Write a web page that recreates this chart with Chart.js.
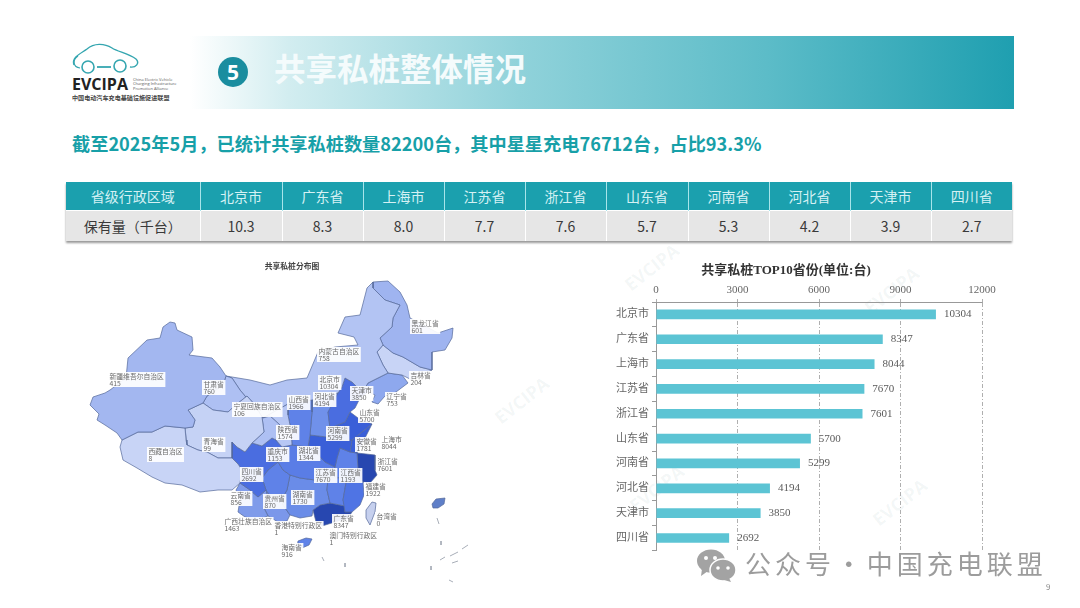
<!DOCTYPE html>
<html lang="zh">
<head>
<meta charset="utf-8">
<title>共享私桩整体情况</title>
<script src="https://cdn.jsdelivr.net/npm/chart.js@4"></script>
<style>
  html, body { margin: 0; padding: 0; background: #fff; }
  body { position: relative; width: 1080px; height: 608px; overflow: hidden; font-family: "Noto Sans CJK SC", "Noto Sans", sans-serif; }
  .abs { position: absolute; }
  #banner { left: 190px; top: 36px; width: 824px; height: 73px; background: linear-gradient(90deg, #fff 0%, #d2edf0 12%, #90d2da 40%, #5cbcc8 70%, #1f9fb0 100%); }
  #num { left: 218px; top: 57px; width: 30px; height: 30px; border-radius: 50%; background: #1a8d9f; color: #fff; font: bold 21px/30px "Open Sans", sans-serif; text-align: center; }
  #headline { left: 274px; top: 46px; color: #f4fbfc; font-size: 31.5px; font-weight: 700; line-height: 42px; white-space: nowrap; }
  #sub { left: 72px; top: 130px; color: #17a0a8; font-size: 18.2px; font-weight: 700; line-height: 26px; white-space: nowrap; }
  #tbl { left: 66px; top: 182px; border-collapse: collapse; box-shadow: 0 2px 2px #9a9a9a; table-layout: fixed; width: 946px; }
  #tbl td { text-align: center; padding: 0; font-size: 14px; }
  #tbl tr:first-child td { height: 28px; background: #1ba0ae; color: #d5f1f4; border-right: 1px solid #a8e4ea; }
  #tbl tr:last-child td { height: 30px; background: #e6e6e6; color: #3a3a3a; border-right: 1px solid #fff; border-top: 1px solid #fff; }
  #tbl td:last-child { border-right: 0 !important; }
  #mapChart { left: 60px; top: 255px; }
  #barChart { left: 590px; top: 255px; }
  .mark { color: rgba(90, 130, 140, 0.07); font: bold 18px "Open Sans", sans-serif; transform: rotate(-38deg); white-space: nowrap; }
  #foot { left: 745px; top: 545px; color: #9c9c9c; font-size: 26px; letter-spacing: 4px; word-spacing: -9px; line-height: 36px; white-space: nowrap; }
  #pg { left: 1046px; top: 581px; color: #888; font-size: 8px; }
  #logoEn { left: 72px; top: 75px; font: bold 16px/18px "Open Sans", sans-serif; color: #222; }
  #logoSm { left: 133px; top: 78px; font: 4px/4.4px "Open Sans", sans-serif; color: #555; }
  #logoCn { left: 72px; top: 93px; font-size: 6.1px; font-weight: 700; color: #444; line-height: 9px; white-space: nowrap; }
</style>
</head>
<body>
<div class="abs" id="banner"></div>
<div class="abs" id="num">5</div>
<div class="abs" id="headline">共享私桩整体情况</div>
<svg class="abs" style="left:70px;top:40px" width="75" height="38" viewBox="0 0 75 38" fill="none">
  <path d="M4 25 C1 17 12 13 17 9 C24 3 34 3 42 8 C48 12 58 13 66 19 C70 23 66 28 60 27" stroke="#35a6b0" stroke-width="1.4"/>
  <path d="M10 28 C3 27 2 20 8 16" stroke="#35a6b0" stroke-width="1.2"/>
  <circle cx="18" cy="27" r="6" stroke="#35a6b0" stroke-width="1.6"/>
  <circle cx="50" cy="26" r="6" stroke="#35a6b0" stroke-width="1.6"/>
  <path d="M27 27 H41" stroke="#35a6b0" stroke-width="1.8"/>
</svg>
<div class="abs" id="logoEn">EVCIPA</div>
<div class="abs" id="logoSm">China Electric Vehicle<br>Charging Infrastructure<br>Promotion Alliance</div>
<div class="abs" id="logoCn">中国电动汽车充电基础设施促进联盟</div>
<div class="abs" id="sub">截至2025年5月，已统计共享私桩数量82200台，其中星星充电76712台，占比93.3%</div>
<table class="abs" id="tbl"></table>

<div class="abs mark" style="left:620px;top:255px">EVCIPA</div>
<div class="abs mark" style="left:860px;top:278px">EVCIPA</div>
<div class="abs mark" style="left:868px;top:490px">EVCIPA</div>
<div class="abs mark" style="left:625px;top:476px">EVCIPA</div>
<div class="abs mark" style="left:490px;top:388px">EVCIPA</div>

<canvas class="abs" id="mapChart" width="420" height="340" style="width:420px;height:340px"></canvas>
<canvas class="abs" id="barChart" width="420" height="305" style="width:420px;height:305px"></canvas>

<svg class="abs" style="left:696px;top:549px" width="42" height="34" viewBox="0 0 42 34">
  <ellipse cx="15" cy="12" rx="14" ry="11.5" fill="#a3a3a3"/>
  <path d="M6 20 L5 27 L12 22 Z" fill="#a3a3a3"/>
  <ellipse cx="27" cy="21" rx="13" ry="11" fill="#a3a3a3" stroke="#fff" stroke-width="1.5"/>
  <path d="M33 29 L35 33 L28 31 Z" fill="#a3a3a3"/>
  <circle cx="10" cy="9" r="2" fill="#fff"/><circle cx="19" cy="9" r="2" fill="#fff"/>
  <circle cx="22" cy="19" r="1.8" fill="#fff"/><circle cx="32" cy="19" r="1.8" fill="#fff"/>
</svg>
<div class="abs" id="foot">公众号 · 中国充电联盟</div>
<div class="abs" id="pg">9</div>

<script>
// table + bar chart
const tableRegions = ['北京市', '广东省', '上海市', '江苏省', '浙江省', '山东省', '河南省', '河北省', '天津市', '四川省'];
const tableValues = ['10.3', '8.3', '8.0', '7.7', '7.6', '5.7', '5.3', '4.2', '3.9', '2.7'];
const barRegions = ['北京市', '广东省', '上海市', '江苏省', '浙江省', '山东省', '河南省', '河北省', '天津市', '四川省'];
const barValues = [10304, 8347, 8044, 7670, 7601, 5700, 5299, 4194, 3850, 2692];

// map labels, 省份 / 数量 / label corner on the map grid
const mapNames = ['新疆维吾尔自治区', '甘肃省', '内蒙古自治区', '黑龙江省', '吉林省', '辽宁省', '北京市', '天津市', '河北省', '山西省', '宁夏回族自治区', '陕西省', '青海省', '西藏自治区', '四川省', '重庆市', '湖北省', '河南省', '山东省', '安徽省', '上海市', '江苏省', '浙江省', '江西省', '福建省', '湖南省', '贵州省', '云南省', '广西壮族自治区', '广东省', '香港特别行政区', '澳门特别行政区', '海南省', '台湾省'];
const mapValues = [415, 760, 758, 601, 204, 753, 10304, 3850, 4194, 1966, 106, 1574, 99, 8, 2692, 1153, 1344, 5299, 5700, 1781, 8044, 7670, 7601, 1193, 1922, 1730, 870, 856, 1463, 8347, 1, 1, 916, 0];
const mapLabelX = [108, 202, 317, 410, 409, 385, 318, 350, 313, 287, 232, 276, 202, 147, 240, 266, 297, 326, 358, 355, 380, 314, 376, 339, 364, 291, 263, 229, 223, 332, 273, 328, 280, 375];
const mapLabelY = [372, 380, 347, 319, 371, 392, 375, 386, 392, 395, 402, 425, 437, 447, 467, 447, 446, 426, 408, 437, 435, 468, 457, 468, 482, 490, 494, 491, 517, 514, 521, 531, 543, 512];

// outlines, on the map grid
const xinjiang = [[170,322],[175,323],[177,330],[192,337],[193,350],[189,355],[212,358],[220,367],[226,376],[223,385],[207,396],[203,403],[188,410],[195,420],[193,427],[185,428],[165,426],[152,432],[138,432],[122,440],[117,433],[105,425],[97,420],[99,414],[90,405],[93,397],[105,393],[110,390],[126,378],[128,358],[147,340],[160,338],[163,327]];
const tibet = [[122,440],[138,432],[152,432],[165,426],[185,428],[186,440],[187,445],[198,450],[207,452],[218,458],[232,458],[238,464],[242,470],[240,483],[232,490],[218,490],[200,492],[182,485],[165,483],[152,477],[137,468],[123,460],[120,447]];
const qinghai = [[188,410],[203,403],[213,410],[228,412],[237,404],[247,396],[255,405],[262,417],[264,432],[252,443],[245,452],[237,447],[232,442],[232,458],[218,458],[207,452],[198,450],[187,445],[185,428],[193,427],[195,420]];
const gansu = [[226,376],[232,378],[240,390],[255,408],[263,418],[270,416],[280,425],[276,440],[272,438],[262,446],[252,443],[264,432],[262,417],[255,405],[247,396],[237,404],[228,412],[213,410],[203,403],[207,396],[223,385]];
const shaanxi = [[263,418],[288,404],[288,415],[291,430],[292,445],[282,447],[276,440],[280,425],[270,416]];
const innerMongolia = [[226,376],[250,380],[270,385],[287,380],[307,378],[318,352],[335,347],[358,345],[354,337],[338,333],[345,317],[360,315],[367,288],[373,282],[373,288],[385,300],[400,305],[393,318],[392,327],[380,338],[383,345],[377,352],[383,365],[388,373],[368,383],[365,388],[357,387],[352,382],[345,378],[342,387],[338,393],[312,400],[288,404],[263,418],[255,408],[240,390],[232,378]];
const heilongjiang = [[373,282],[388,281],[400,292],[407,305],[410,318],[438,333],[453,328],[452,338],[445,350],[432,352],[432,370],[420,367],[403,357],[393,353],[383,345],[380,338],[392,327],[393,318],[400,305],[385,300],[373,288]];
const jilin = [[383,345],[393,353],[403,357],[420,367],[432,370],[420,375],[412,380],[402,375],[388,373],[383,365],[377,352]];
const liaoning = [[388,373],[402,375],[408,383],[396,392],[385,396],[378,404],[372,402],[375,395],[368,392],[365,388],[368,383]];
const hebei = [[345,378],[352,382],[357,387],[365,388],[368,392],[360,398],[355,408],[350,412],[345,422],[330,428],[328,412],[338,393],[342,387]];
const beijing = [[338,393],[348,392],[349,402],[338,404]];
const shanxi = [[288,404],[312,400],[312,412],[310,435],[308,447],[292,445],[291,430],[288,415]];
const midBlock = [[312,400],[338,393],[338,404],[328,412],[330,428],[327,437],[310,435],[312,412]];
const shandong = [[350,412],[358,418],[372,424],[362,432],[352,440],[343,440],[335,432],[330,428],[345,422]];
const henan = [[310,435],[327,437],[330,428],[335,432],[343,440],[352,440],[350,452],[340,448],[337,458],[335,467],[325,462],[318,455],[308,447]];
const jiangsu = [[352,440],[362,432],[372,424],[365,438],[360,447],[357,453],[350,452]];
const anhui = [[337,458],[340,448],[350,452],[357,453],[358,470],[357,476],[347,477],[337,478],[335,467]];
const zhejiang = [[357,453],[375,455],[375,470],[377,475],[370,483],[363,482],[357,476],[358,470]];
const fujian = [[347,477],[357,476],[363,482],[364,495],[360,505],[352,512],[345,512],[343,500]];
const jiangxi = [[328,478],[347,477],[343,500],[345,506],[330,503],[327,490]];
const hubei = [[282,447],[292,445],[308,447],[318,455],[325,462],[335,467],[337,478],[328,478],[315,480],[300,478],[290,475],[283,470],[278,462]];
const sichuan = [[232,442],[237,447],[245,452],[252,443],[262,446],[272,438],[276,440],[282,447],[278,462],[268,470],[262,478],[266,490],[258,497],[250,490],[240,483],[242,470],[238,464],[232,458]];
const yunnan = [[240,483],[250,490],[258,497],[266,490],[268,500],[264,508],[268,516],[258,520],[245,517],[238,512],[240,500],[236,490]];
const guizhou = [[268,470],[278,462],[283,470],[290,475],[287,490],[283,497],[270,496],[266,490],[262,478]];
const hunan = [[290,475],[300,478],[315,480],[328,478],[327,490],[330,503],[320,505],[313,510],[312,516],[300,518],[290,515],[283,505],[283,497],[287,490]];
const guangxi = [[266,490],[270,496],[283,497],[283,505],[290,515],[287,521],[278,522],[268,516],[264,508],[268,500]];
const guangdong = [[313,510],[320,505],[330,503],[345,506],[345,512],[352,512],[348,518],[335,522],[322,526],[316,522]];
const taiwan = [[372,502],[376,503],[375,512],[370,525],[366,518],[366,510]];
const hainan = [[297,547],[298,541],[306,538],[312,539],[309,545],[302,548]];
const isle = [[432,504],[436,499],[445,498],[444,504],[438,508],[433,508]];
const seaSpecks = [[[437,518],[439,524]], [[441,541],[441,545]], [[431,566],[431,570]], [[440,560],[445,557]], [[450,556],[458,552]], [[462,549],[468,545]], [[452,563],[458,561]], [[345,563],[345,567]], [[322,557],[324,561]], [[449,580],[453,582]]];

const shapes = [
    [xinjiang, '#a3b7f0'], [tibet, '#c8d4f6'], [qinghai, '#c5d2f5'], [gansu, '#aec0f3'], [shaanxi, '#b7c7f4'],
    [innerMongolia, '#b3c4f3'], [heilongjiang, '#9fb4f0'], [jilin, '#c8d4f6'], [liaoning, '#8ea8ee'],
    [hebei, '#4a6de0'], [shanxi, '#5f82e8'], [midBlock, '#7091ea'], [shandong, '#3a5fd8'], [henan, '#3a5fd8'],
    [jiangsu, '#3a5fd8'], [anhui, '#5f82e8'], [zhejiang, '#2747b0'], [fujian, '#4f74e4'], [jiangxi, '#5f82e8'],
    [hubei, '#5a7de6'], [sichuan, '#4a6de0'], [yunnan, '#7f9bea'], [guizhou, '#5f82e8'], [hunan, '#6a8ce8'],
    [guangxi, '#7b97ea'], [guangdong, '#2747b0'], [beijing, '#2747b0'], [taiwan, '#c6d0ee'], [hainan, '#5f82e8'], [isle, '#5f7fc8']
];

// table
const tbl = document.getElementById('tbl');
const widths = [134, 82, 81, 81, 81, 81, 82, 81, 81, 81, 81];
tbl.innerHTML = '<colgroup>' + widths.map(w => `<col style="width:${w}px">`).join('') + '</colgroup>' +
    '<tr><td>省级行政区域</td>' + tableRegions.map(r => `<td>${r}</td>`).join('') + '</tr>' +
    '<tr><td>保有量（千台）</td>' + tableValues.map(v => `<td>${v}</td>`).join('') + '</tr>';

const serif = "'Liberation Serif', 'Noto Sans CJK SC', serif";

// map
const mapLabels = {
    id: 'mapLabels',
    afterDatasetsDraw(chart) {
        const { ctx, scales: { x, y } } = chart;
        ctx.save();
        ctx.textAlign = 'left';
        ctx.textBaseline = 'middle';
        ctx.font = "6.8px 'Noto Sans CJK SC'";
        mapNames.forEach((name, i) => {
            const px = x.getPixelForValue(mapLabelX[i]);
            const py = y.getPixelForValue(mapLabelY[i]);
            const w = Math.max(ctx.measureText(name).width + 3, 23);
            ctx.fillStyle = 'rgba(255,255,255,0.92)';
            ctx.fillRect(px, py, w, 15);
            ctx.fillStyle = '#6a6a6a';
            ctx.fillText(name, px + 1.5, py + 4);
            ctx.fillText(String(mapValues[i]), px + 1.5, py + 11);
        });
        ctx.fillStyle = '#444';
        ctx.font = "bold 7.8px 'Noto Sans CJK SC'";
        ctx.textAlign = 'center';
        ctx.fillText('共享私桩分布图', x.getPixelForValue(292), y.getPixelForValue(266));
        ctx.restore();
    }
};

new Chart(document.getElementById('mapChart'), {
    type: 'scatter',
    data: {
        datasets: shapes.map(([ring, color]) => ({
            data: ring.concat([ring[0]]).map(([x, y]) => ({ x, y })),
            showLine: true,
            fill: 'shape',
            backgroundColor: color,
            borderColor: '#55689a',
            borderWidth: 0.7,
            pointRadius: 0,
            tension: 0
        })).concat(seaSpecks.map(line => ({
            data: line.map(([x, y]) => ({ x, y })),
            showLine: true,
            fill: false,
            borderColor: '#a8aeb8',
            borderWidth: 1,
            pointRadius: 0
        })))
    },
    plugins: [mapLabels],
    options: {
        responsive: false,
        animation: false,
        layout: { padding: 0 },
        plugins: { legend: { display: false }, tooltip: { enabled: false } },
        scales: {
            x: { type: 'linear', min: 60, max: 480, display: false },
            y: { type: 'linear', min: 255, max: 595, reverse: true, display: false }
        }
    }
});

// bar chart
const barValueLabels = {
    id: 'barValueLabels',
    afterDatasetsDraw(chart) {
        const { ctx } = chart;
        ctx.save();
        ctx.font = '11px ' + serif;
        ctx.fillStyle = '#5a5a5a';
        ctx.textAlign = 'left';
        ctx.textBaseline = 'middle';
        chart.getDatasetMeta(0).data.forEach((bar, i) => {
            ctx.fillText(String(barValues[i]), bar.x + 8, bar.y);
        });
        ctx.restore();
    }
};

new Chart(document.getElementById('barChart'), {
    type: 'bar',
    data: {
        labels: barRegions,
        datasets: [{ data: barValues, backgroundColor: '#5cc4d4', barPercentage: 0.39, categoryPercentage: 1 }]
    },
    plugins: [barValueLabels],
    options: {
        indexAxis: 'y',
        responsive: false,
        animation: false,
        layout: { padding: { left: 0, right: 28, top: 0, bottom: 9 } },
        plugins: {
            legend: { display: false },
            tooltip: { enabled: false },
            title: {
                display: true,
                text: '共享私桩TOP10省份(单位:台)',
                color: '#333',
                font: { family: serif, size: 13, weight: 'bold' },
                padding: { top: 8, bottom: 4 }
            }
        },
        scales: {
            x: {
                position: 'top',
                min: 0,
                max: 12000,
                ticks: { stepSize: 3000, color: '#666', font: { family: serif, size: 11 }, padding: 2, maxRotation: 0, callback: v => String(v) },
                grid: { color: '#9a9a9a', tickColor: '#9a9a9a', tickLength: 3, lineWidth: 0.8 },
                border: { color: '#999', dash: [4, 2, 1, 2] },
                afterFit(scale) { scale.height = 19.4; }
            },
            y: {
                ticks: { color: '#666', font: { family: serif, size: 11 }, padding: 3 },
                grid: { drawOnChartArea: false, tickLength: 4, tickColor: '#999' },
                border: { color: '#999' },
                afterFit(scale) { scale.width = 66; }
            }
        }
    }
});
</script>
</body>
</html>
